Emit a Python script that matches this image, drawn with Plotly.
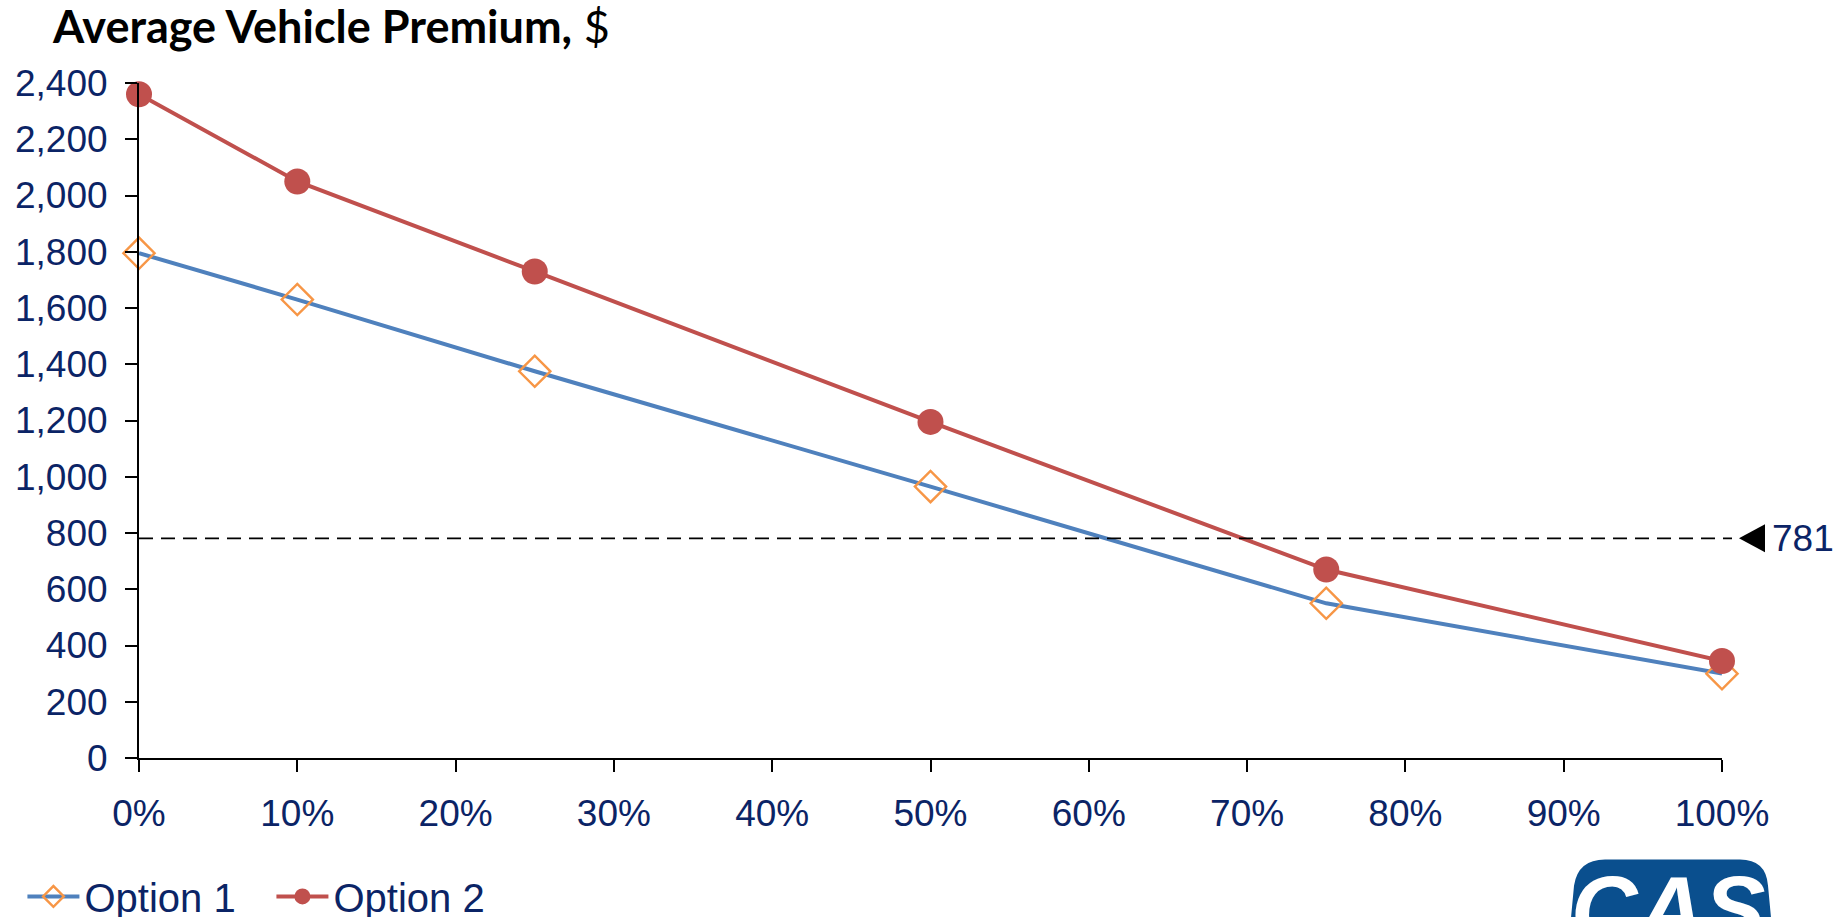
import plotly.graph_objects as go

# ---- data ----
x_share = [0.0, 0.10, 0.25, 0.50, 0.75, 1.00]
option1 = [1795, 1630, 1375, 965, 550, 300]
option2 = [2360, 2050, 1730, 1195, 670, 345]
series_names = ["Option 1", "Option 2"]
ref_value = 781
ref_label = "781"
y_ticks = list(range(0, 2401, 200))
x_ticks = [i / 10 for i in range(11)]
title_bold = "Average Vehicle Premium,"
title_rest = " $"

# ---- geometry (pixels of the 1842x917 page) ----
W, H = 1842, 917
L, R, T, B = 138.6, 1722.0, 83.4, 757.7


def px(xp):
    return (xp - L) / (R - L)


def py(yp):
    return (B - yp) / (B - T)


NAVY = "#0B2466"
FONT = "Liberation Sans, Arial, sans-serif"

fig = go.Figure()
fig.add_trace(go.Scatter(
    x=x_share, y=option1, name=series_names[0], mode="lines+markers",
    line=dict(color="#4F81BD", width=4),
    marker=dict(symbol="diamond-open", size=24, color="#F79646",
                line=dict(color="#F79646", width=2.4)),
    cliponaxis=False,
))
fig.add_trace(go.Scatter(
    x=x_share, y=option2, name=series_names[1], mode="lines+markers",
    line=dict(color="#C0504D", width=4),
    marker=dict(symbol="circle", size=26, color="#C0504D"),
    cliponaxis=False,
))

# dashed reference line
fig.add_shape(type="line", xref="paper", yref="y",
              x0=0, x1=px(1732), y0=ref_value, y1=ref_value,
              line=dict(color="black", width=1.6, dash="14px,8px"))
# triangle marker for reference
fig.add_shape(type="path", xref="paper", yref="y",
              xsizemode="pixel", ysizemode="pixel",
              xanchor=px(1752), yanchor=ref_value,
              path="M -13,0 L 13,14 L 13,-14 Z",
              fillcolor="black", line=dict(width=0))
fig.add_annotation(xref="paper", yref="y", x=px(1770), y=ref_value,
                   text=ref_label, showarrow=False, xanchor="left", yanchor="middle",
                   font=dict(family=FONT, size=37, color=NAVY))

# title
fig.add_annotation(xref="paper", yref="paper", x=px(50), y=py(55),
                   text=f"<b>{title_bold}</b>{title_rest}", showarrow=False,
                   xanchor="left", yanchor="bottom",
                   font=dict(family="Lato, Open Sans, sans-serif", size=45, color="black"))

# CAS logo (approximation)
logo_path = (f"M {px(1571)},{py(917)} L {px(1574)},{py(885)} "
             f"Q {px(1578)},{py(859)} {px(1605)},{py(859)} "
             f"L {px(1740)},{py(859)} Q {px(1766)},{py(859)} {px(1768)},{py(885)} "
             f"L {px(1771)},{py(917)} Z")
fig.add_shape(type="path", xref="paper", yref="paper", path=logo_path,
              fillcolor="#0A4F8E", line=dict(width=0), layer="above")
fig.add_annotation(xref="paper", yref="paper", x=px(1668), y=py(856),
                   text="<b><i>CAS</i></b>", showarrow=False,
                   xanchor="center", yanchor="top",
                   font=dict(family="Liberation Sans, Arial", size=92, color="white"))

fig.update_layout(
    width=W, height=H,
    margin=dict(l=L, r=W - R, t=T, b=H - B, pad=0, autoexpand=False),
    paper_bgcolor="white", plot_bgcolor="white",
    showlegend=True,
    legend=dict(orientation="h", x=px(22), y=py(896), xanchor="left", yanchor="middle",
                font=dict(family=FONT, size=40, color=NAVY),
                itemwidth=52, entrywidth=182, entrywidthmode="pixels",
                tracegroupgap=0, bgcolor="rgba(0,0,0,0)"),
    font=dict(family=FONT, color=NAVY),
)
fig.update_xaxes(
    range=[0, 1], tickvals=x_ticks, tickformat=".0%", automargin=False,
    showgrid=False, zeroline=False, showline=True, linecolor="black", linewidth=2,
    ticks="outside", ticklen=12, tickwidth=2, tickcolor="black",
    tickfont=dict(family=FONT, size=37, color=NAVY), ticklabelstandoff=10,
)
fig.update_yaxes(
    range=[0, 2400], tickvals=y_ticks, tickformat=",d", automargin=False,
    showgrid=False, zeroline=False, showline=True, linecolor="black", linewidth=2,
    ticks="outside", ticklen=12, tickwidth=2, tickcolor="black",
    tickfont=dict(family=FONT, size=37, color=NAVY), ticklabelstandoff=10,
)

fig.write_html("out.html", config={"displayModeBar": False},
               post_script="document.body.style.margin='0';document.body.style.overflow='hidden';")
